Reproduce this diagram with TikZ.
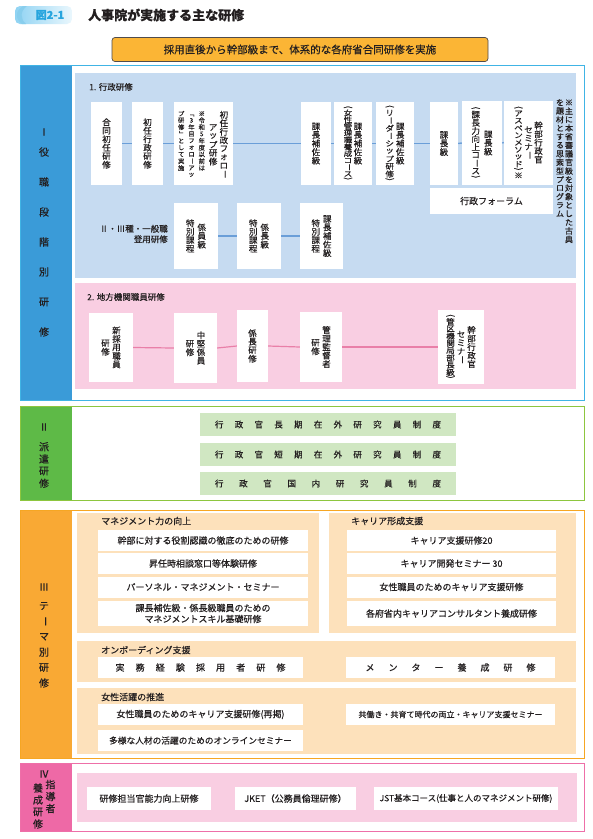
\documentclass[tikz,border=0pt]{standalone}
\usepackage{fontspec}
\usepackage{graphicx}
\setmainfont{Noto Sans CJK JP}[RawFeature={embolden=0.4}]
\definecolor{txt}{HTML}{231F20}
\definecolor{bBar}{HTML}{3A9BD8}
\definecolor{bBord}{HTML}{40B4E5}
\definecolor{bLight}{HTML}{C6DBF1}
\definecolor{bLine}{HTML}{6A9ED8}
\definecolor{pLight}{HTML}{F9CEE2}
\definecolor{pLine}{HTML}{E97FA8}
\definecolor{gBord}{HTML}{8DC63F}
\definecolor{gBar}{HTML}{5EBA47}
\definecolor{gBox}{HTML}{D0E7C2}
\definecolor{oBord}{HTML}{F6A623}
\definecolor{oBar}{HTML}{F9A934}
\definecolor{peach}{HTML}{FDE1BB}
\definecolor{mBord}{HTML}{EE6FA8}
\definecolor{mBar}{HTML}{EE69A6}
\definecolor{banner}{HTML}{FBB535}
\definecolor{badgeL}{HTML}{8FD3F3}
\definecolor{badgeR}{HTML}{EAF7FD}
\definecolor{badgeT}{HTML}{27A5DE}
\makeatletter
\newif\ifvsmall
\def\vsE{\vsE@mark}
\def\spE{\spE@mark}
\def\vtpitch{1em}\def\vtscale{1}
\newcommand\vtset[2]{\def\vtpitch{#1}\def\vtscale{#2}}
\newcommand\LP{\rotatebox[origin=c]{-90}{(}}
\newcommand\RP{\rotatebox[origin=c]{-90}{)}}
\newcommand\LB{\rotatebox[origin=c]{-90}{「}}
\newcommand\RB{\rotatebox[origin=c]{-90}{」}}
\newcommand\VL{\rotatebox[origin=c]{-90}{ー}}
\def\vtA#1{\ifx#1\vsE\else\vtB{#1}\expandafter\vtA\fi}
\def\vtB#1{\vsmallfalse
  \ifx#1\LP\vsmalltrue\fi\ifx#1\RP\vsmalltrue\fi
  \ifvsmall\vbox to .55\dimexpr\vtpitch\relax{\vss\hbox to 1em{\hss#1\hss}\vss}%
  \else\vbox to \vtpitch{\vss\hbox to 1em{\hss\scalebox{1}[\vtscale]{#1}\hss}\vss}\fi}
\newcommand\vt[1]{$\vcenter{\offinterlineskip\vtA#1\vsE}$}
\newcommand\vtt[1]{\vtop{\offinterlineskip\vtA#1\vsE}}
\def\spA#1{\ifx#1\spE\else#1\expandafter\spB\fi}
\def\spB#1{\ifx#1\spE\else\hfil#1\expandafter\spB\fi}
\newcommand\spread[2]{\hbox to #1{\spA#2\spE}}
\makeatother
\tikzset{
  sz/.style 2 args={minimum width=#1,minimum height=#2},
  wbox/.style={fill=white,inner sep=0pt,text=txt,font=\fontsize{8.5}{10}\selectfont},
  hbx/.style={fill=white,inner sep=0pt,text=txt,align=center,font=\fontsize{9}{11}\selectfont},
  gbx/.style={fill=gBox,inner sep=0pt,text=txt,font=\fontsize{8.5}{10}\selectfont},
  lbl/.style={inner sep=0pt,text=txt,font=\fontsize{8.5}{10.5}\selectfont},
  ttl/.style={inner sep=0pt,text=txt,anchor=west,font=\fontsize{9}{11}\selectfont},
  barlbl/.style={inner sep=0pt,text=txt,font=\fontsize{10}{12}\selectfont},
  bcon/.style={bLine,line width=1.4pt},
  pcon/.style={pLine,line width=1.2pt},
}
\begin{document}
\begin{tikzpicture}[x=1pt,y=-1pt]
\useasboundingbox (0,0) rectangle (593,839);
\fill[white] (0,0) rectangle (593,839);
% ---- header
\shade[left color=badgeL,right color=badgeR,rounded corners=5pt] (15,6) rectangle (72,24);
\fill[badgeT!55] (23,6) .. controls (15,11) and (15,19) .. (22,24) -- (26,24) .. controls (20,19) and (20,11) .. (27,6) -- cycle;
\node[inner sep=0pt,text=badgeT,font=\fontsize{11}{12}\bfseries] (badge) at (50,15) {図2-1};
\node[inner sep=0pt,anchor=west,text=txt,font=\fontsize{13}{14}\bfseries] (title) at (88,15) {人事院が実施する主な研修};
\node[draw=txt!80,line width=0.7pt,fill=banner,rounded corners=3pt,sz={376}{24},inner sep=0pt,text=txt,font=\fontsize{10.5}{12}\selectfont] (ban) at (300,49.5) {採用直後から幹部級まで、体系的な各府省合同研修を実施};
% ---- Section I
\fill[bBar] (20,65.5) rectangle (72,400);
\draw[bBord,line width=0.9pt] (20,65.5) rectangle (584.5,400);
\node[barlbl] (s1n) at (44,132) {Ⅰ};
\node[barlbl] (s1l) at (44,242) {\vtset{30pt}{1}\vt{役職段階別研修}};
\fill[bLight] (75,73) rectangle (576,278);
\fill[pLight] (75,283) rectangle (576,389);
\node[lbl,anchor=west] (t1) at (89,87) {1. 行政研修};
\node[wbox,sz={31}{83}] (a1) at (106.5,143.5) {\vt{合同初任研修}};
\node[wbox,sz={31}{83}] (a2) at (147.5,143.5) {\vt{初任行政研修}};
\node[wbox,sz={59}{83}] (a3) at (203.5,143.5) {};
\node[lbl] (a3m) at (218.5,144.5) {\vt{アップ研修}\hspace{2.2pt}\vt{初任行政フォロ\VL}};
\node[lbl,anchor=north,font=\fontsize{6.3}{7}\selectfont] (a3n) at (191.5,110) {\vtset{1.08em}{1}\vtt{プ研修\RB として実施}\hspace{4pt}\vtt{\LB 3年目フォロ\VL アッ}\hspace{4pt}\vtt{※令和5年度以前は}};
\node[wbox,sz={30}{83}] (a4) at (316,143.5) {\vt{課長補佐級}};
\node[wbox,sz={38}{83}] (a5) at (353,143.5) {{\vtset{0.8em}{0.85}\vt{\LP 女性管理職養成コ\VL ス\RP}}\hspace{1.5pt}\vt{課長補佐級}};
\node[wbox,sz={38}{83}] (a6) at (395,143.5) {{\vtset{0.9em}{0.9}\vt{\LP リ\VL ダ\VL シップ研修\RP}}\hspace{2pt}\vt{課長補佐級}};
\node[wbox,sz={28}{83}] (a7) at (444,143.5) {\vt{課長級}};
\node[wbox,sz={40}{84}] (a8) at (482,143) {{\vtset{0.95em}{1}\vt{\LP 課長力向上コ\VL ス\RP}}\hspace{4pt}\vt{課長級}};
\node[wbox,sz={49}{84}] (a9) at (528.5,142.5) {{\vtset{0.85em}{0.9}\vt{\LP アスペンメソッド\RP ※}}\hspace{1.5pt}\vt{セミナ\VL}\hspace{1.5pt}\vt{幹部行政官}};
\node[wbox,sz={123}{26},font=\fontsize{9}{11}\selectfont] (a10) at (491.5,201) {行政フォーラム};
\node[lbl,anchor=north,font=\fontsize{8}{9}\selectfont] (note) at (564.5,98) {\vtset{1.07em}{1}\vtt{を題材とする思索型プログラム}\hspace{1pt}\vtt{※主に本省審議官級を対象とした古典}};
\draw[bcon] (a1.east) -- (a2.west);
\draw[bcon] (a2.east) -- (a3.west);
\draw[bcon] (a3.east) -- (a4.west);
\draw[bcon] (a4.east) -- (a5.west);
\draw[bcon] (a5.east) -- (a6.west);
\draw[bcon] (a6.east) -- (a7.west);
\draw[bcon] (a7.east) -- (a8.west);
\draw[bcon] (a8.east) -- (a9.west);
\node[lbl,anchor=east,align=right] (b0) at (168,234) {Ⅱ・Ⅲ種・一般職\\登用研修};
\node[wbox,sz={44}{66}] (b1) at (196,236) {\vt{特別課程}\hspace{3pt}\vt{係員級}};
\node[wbox,sz={44}{66}] (b2) at (259,236) {\vt{特別課程}\hspace{3pt}\vt{係長級}};
\node[wbox,sz={43}{66}] (b3) at (321.5,236) {\vt{特別課程}\hspace{3pt}\vt{課長補佐級}};
\draw[bcon] (b1.east) -- (b2.west);
\draw[bcon] (b2.east) -- (b3.west);
\node[lbl,anchor=west] (t2) at (87,297) {2. 地方機関職員研修};
\node[wbox,sz={44}{69}] (c1) at (111,347.5) {\vt{研修}\hspace{2.5pt}\vt{新採用職員}};
\node[wbox,sz={43}{70}] (c2) at (195.5,348) {\vt{研修}\hspace{2.5pt}\vt{中堅係員}};
\node[wbox,sz={31}{72}] (c3) at (252.5,346) {\vt{係長研修}};
\node[wbox,sz={42}{70}] (c4) at (321,347) {\vt{研修}\hspace{2.5pt}\vt{管理監督者}};
\node[wbox,sz={46}{74}] (c5) at (461,347) {{\vtset{0.85em}{0.9}\vt{\LP 管区機関局部長級\RP}}\hspace{2pt}\vt{セミナ\VL}\hspace{2pt}\vt{幹部行政官}};
\draw[pcon] (c1.east) -- (c2.west);
\draw[pcon] (c2.east) -- (c3.west);
\draw[pcon] (c3.east) -- (c4.west);
\draw[pcon] (c4.east) -- (c5.west);
% ---- Section II
\fill[gBar] (20,406) rectangle (72,500);
\draw[gBord,line width=0.9pt] (20,406) rectangle (584.5,500);
\node[barlbl] (s2n) at (44,427) {Ⅱ};
\node[barlbl] (s2l) at (44,465) {\vtset{12.2pt}{1}\vt{派遣研修}};
\node[gbx,sz={256}{23}] (g1) at (328,424.5) {\spread{226pt}{行政官長期在外研究員制度}};
\node[gbx,sz={256}{23}] (g2) at (328,454.5) {\spread{226pt}{行政官短期在外研究員制度}};
\node[gbx,sz={256}{23}] (g3) at (328,483.5) {\spread{226pt}{行政官国内研究員制度}};
% ---- Section III
\fill[oBar] (20,510) rectangle (72,758);
\draw[oBord,line width=0.9pt] (20,510) rectangle (584.5,758);
\node[barlbl] (s3n) at (44,587) {Ⅲ};
\node[barlbl] (s3l) at (44,644.5) {\vtset{15.4pt}{1}\vt{テ\VL マ別研修}};
\fill[peach] (77,513) rectangle (319,633);
\fill[peach] (329,513) rectangle (576,633);
\fill[peach] (77,641) rectangle (576,682);
\fill[peach] (77,688) rectangle (576,754);
\node[ttl] (p1t) at (101,521) {マネジメント力の向上};
\node[ttl] (p2t) at (351,521) {キャリア形成支援};
\node[ttl] (p3t) at (101,650) {オンボーディング支援};
\node[ttl] (p4t) at (101,697) {女性活躍の推進};
\node[hbx,sz={210}{21}] (m1) at (203,540.5) {幹部に対する役割認識の徹底のための研修};
\node[hbx,sz={210}{21}] (m2) at (203,563.5) {昇任時相談窓口等体験研修};
\node[hbx,sz={210}{21}] (m3) at (203,587) {パーソネル・マネジメント・セミナー};
\node[hbx,sz={210}{25}] (m4) at (203,613.5) {課長補佐級・係長級職員のための\\マネジメントスキル基礎研修};
\node[hbx,sz={209}{21}] (r1) at (451.5,540.5) {キャリア支援研修20};
\node[hbx,sz={209}{21}] (r2) at (451.5,563.5) {キャリア開発セミナー 30};
\node[hbx,sz={209}{21}] (r3) at (451.5,587) {女性職員のためのキャリア支援研修};
\node[hbx,sz={209}{25}] (r4) at (451.5,613.5) {各府省内キャリアコンサルタント養成研修};
\node[hbx,sz={205}{21}] (o1) at (200.5,667.5) {\spread{170pt}{実務経験採用者研修}};
\node[hbx,sz={209}{21}] (o2) at (450.5,667.5) {\spread{170pt}{メンター養成研修}};
\node[hbx,sz={205}{21}] (w1) at (200.5,714.5) {女性職員のためのキャリア支援研修(再掲)};
\node[hbx,sz={209}{21},font=\fontsize{8}{10}\selectfont] (w2) at (450.5,714.5) {共働き・共育て時代の両立・キャリア支援セミナー};
\node[hbx,sz={205}{21},font=\fontsize{8.7}{10}\selectfont] (w3) at (200.5,740.5) {多様な人材の活躍のためのオンラインセミナー};
% ---- Section IV
\fill[mBar] (20,763) rectangle (72,831);
\draw[mBord,line width=0.9pt] (20,763) rectangle (584.5,831);
\node[barlbl] (s4n) at (44,774) {Ⅳ};
\node[barlbl] (s4a) at (50.5,796.5) {\vtset{12pt}{1}\vt{指導者}};
\node[barlbl] (s4b) at (38,806) {\vtset{12pt}{1}\vt{養成研修}};
\fill[pLight] (77,773) rectangle (577,822);
\node[hbx,sz={124}{23}] (k1) at (149,798.5) {研修担当官能力向上研修};
\node[hbx,sz={121}{23}] (k2) at (295.5,798.5) {JKET（公務員倫理研修）};
\node[hbx,sz={184}{23},font=\fontsize{8.5}{10}\selectfont] (k3) at (466,798.5) {JST基本コース(仕事と人のマネジメント研修)};
\end{tikzpicture}
\end{document}
